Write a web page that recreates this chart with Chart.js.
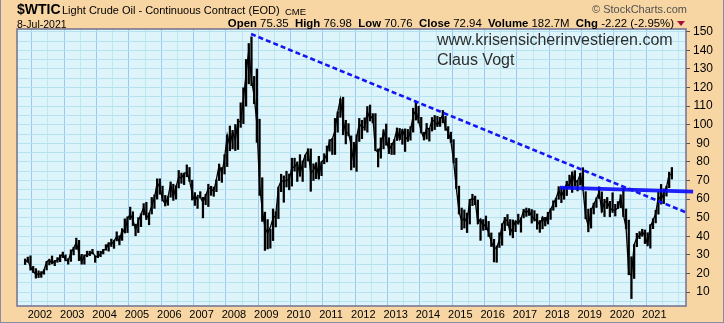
<!DOCTYPE html>
<html>
<head>
<meta charset="utf-8">
<script src="https://cdn.jsdelivr.net/npm/chart.js@4/dist/chart.umd.min.js"></script>
<style>
  html,body{margin:0;padding:0;}
  body{width:724px;height:323px;overflow:hidden;background:#f8d6a4;position:relative;font-family:"Liberation Sans",Arial,sans-serif;}
  #frame{position:absolute;left:0;top:0;width:722px;height:322px;border-left:1px solid #8a8aa6;border-right:1px solid #8a8aa6;border-bottom:1px solid #8a8aa6;pointer-events:none;z-index:5;}
  canvas{position:absolute;left:0;top:0;}
  .t{position:absolute;white-space:nowrap;line-height:normal;color:#000;z-index:3;}
  #sym{left:17px;top:1px;font-size:14px;font-weight:bold;}
  #name{left:62px;top:4px;font-size:11px;}
  #exch{left:285px;top:5.5px;font-size:9.5px;}
  #date{left:17px;top:17.5px;font-size:10.5px;}
  #stats{right:50px;top:16.7px;font-size:11.4px;}
  #stats b{font-weight:bold;}
  #copy{left:592px;top:2.5px;font-size:11px;color:#505050;}
  #tri{position:absolute;left:677px;top:21px;width:0;height:0;border-left:4px solid transparent;border-right:4px solid transparent;border-top:5px solid #a3103c;z-index:3;}
  .wm{position:absolute;white-space:nowrap;line-height:normal;font-size:16px;color:#2e2e2e;z-index:3;}
  #wm1{left:437px;top:30.5px;}
  #wm2{left:437px;top:50.5px;}
</style>
</head>
<body>
<canvas id="c" width="724" height="323"></canvas>
<div id="frame"></div>
<div class="t" id="sym">$WTIC</div>
<div class="t" id="name">Light Crude Oil - Continuous Contract (EOD)</div>
<div class="t" id="exch">CME</div>
<div class="t" id="date">8-Jul-2021</div>
<div class="t" id="stats"><b>Open</b> 75.35&nbsp; <b>High</b> 76.98&nbsp; <b>Low</b> 70.76&nbsp; <b>Close</b> 72.94&nbsp; <b>Volume</b> 182.7M&nbsp; <b>Chg</b> -2.22 (-2.95%)</div>
<div id="tri"></div>
<div class="t" id="copy">© StockCharts.com</div>
<div class="wm" id="wm1">www.krisensicherinvestieren.com</div>
<div class="wm" id="wm2">Claus Vogt</div>
<script>
// ---- data: monthly WTI ranges, Jul 2001 .. Jul 2021 ----
const START_YEAR = 2001;
const START_MONTH = 7;

const monthlyLow = [
  24.8, 26.0, 21.8, 20.5, 17.5, 17.8,
  17.9, 19.6, 21.9, 24.6, 25.4, 24.2, 26.0, 26.3, 28.5, 26.8, 25.0, 26.5,
  30.0, 33.0, 26.9, 25.0, 25.0, 29.0, 29.6, 30.5, 26.0, 28.5, 29.0, 30.5,
  32.5, 32.0, 34.5, 33.5, 37.5, 35.4, 37.8, 41.8, 42.0, 49.0, 45.8, 40.3,
  42.0, 45.2, 51.5, 49.0, 46.2, 52.0, 55.0, 60.0, 62.6, 59.0, 56.3, 56.7,
  61.0, 59.3, 60.0, 66.0, 68.5, 67.8, 72.0, 69.5, 59.5, 56.6, 55.0, 60.5,
  49.9, 57.0, 56.0, 62.0, 61.5, 64.0, 70.0, 69.0, 73.5, 77.5, 86.0, 87.0,
  86.1, 86.7, 98.6, 100.6, 110.0, 122.0, 121.0, 111.3, 90.5, 62.0, 48.0, 32.4,
  33.2, 33.6, 37.7, 45.0, 49.5, 64.0, 58.3, 66.5, 65.0, 67.0, 75.0, 69.5,
  72.4, 69.5, 77.0, 80.5, 64.2, 70.0, 71.0, 70.8, 72.6, 79.0, 80.0, 85.8,
  84.0, 84.0, 96.0, 104.0, 94.6, 89.7, 94.0, 75.7, 77.1, 74.9, 91.0, 92.5,
  97.0, 96.0, 102.0, 101.0, 86.0, 77.3, 82.0, 87.0, 89.0, 84.5, 84.0, 84.0,
  91.5, 92.0, 89.5, 85.6, 91.0, 91.7, 96.0, 102.5, 101.0, 95.5, 91.8, 92.3,
  91.2, 96.6, 97.4, 99.0, 99.1, 101.0, 97.0, 92.5, 90.5, 79.5, 65.7, 52.0,
  43.6, 44.4, 42.0, 46.6, 56.5, 57.0, 46.7, 37.8, 43.2, 43.5, 39.9, 34.5,
  26.2, 26.0, 34.0, 35.2, 43.0, 45.8, 40.6, 39.2, 42.5, 46.5, 42.2, 49.9,
  50.7, 51.2, 47.1, 48.2, 43.8, 42.1, 44.0, 45.6, 46.6, 49.1, 54.0, 55.8,
  59.9, 58.1, 59.9, 61.9, 65.8, 63.6, 67.0, 64.4, 67.5, 64.8, 49.4, 42.4,
  44.4, 52.0, 55.5, 60.3, 53.0, 50.6, 54.9, 50.5, 52.8, 50.9, 54.9, 55.4,
  50.6, 44.0, 19.3, 6.5, 17.3, 34.4, 38.7, 40.0, 36.1, 34.9, 33.6, 44.1,
  47.2, 51.9, 57.3, 57.6, 61.6, 66.1, 70.8
];

const monthlyHigh = [
  27.8, 28.8, 29.5, 23.8, 22.6, 21.4,
  21.0, 22.0, 26.5, 27.7, 29.4, 26.8, 28.5, 30.0, 31.5, 30.0, 28.0, 32.7,
  34.0, 39.0, 37.8, 30.3, 30.0, 32.0, 32.0, 33.0, 29.5, 32.0, 32.0, 33.0,
  35.5, 36.6, 38.5, 37.9, 42.4, 40.3, 44.0, 49.4, 50.5, 55.7, 53.2, 46.5,
  50.0, 52.0, 57.6, 58.3, 52.5, 60.9, 62.3, 70.9, 70.9, 67.0, 62.0, 61.4,
  69.2, 68.0, 67.2, 75.4, 74.0, 73.9, 78.4, 77.0, 70.2, 63.5, 61.0, 64.0,
  61.0, 62.6, 68.0, 66.9, 66.5, 70.4, 78.8, 77.0, 83.9, 94.5, 99.3, 97.0,
  100.1, 103.0, 111.8, 119.9, 135.1, 143.7, 147.3, 126.0, 130.0, 103.0, 71.5, 53.0,
  49.0, 43.8, 54.7, 53.2, 66.5, 73.4, 72.5, 75.0, 73.5, 82.0, 82.0, 80.0,
  83.9, 80.5, 83.7, 87.1, 87.0, 79.0, 79.5, 83.0, 80.0, 84.4, 88.6, 92.0,
  92.6, 103.4, 106.9, 113.9, 114.8, 102.4, 100.6, 94.0, 90.5, 94.6, 103.4, 102.4,
  103.7, 109.8, 110.6, 106.0, 106.0, 87.0, 92.9, 97.3, 100.4, 93.0, 90.0, 92.0,
  98.2, 98.0, 97.5, 97.8, 97.5, 99.0, 108.9, 112.2, 110.0, 104.0, 96.0, 100.7,
  98.0, 103.9, 105.0, 104.5, 104.0, 107.7, 104.5, 99.0, 96.0, 92.0, 82.0, 67.0,
  55.2, 54.2, 52.5, 59.9, 62.6, 61.6, 59.5, 49.3, 49.0, 50.9, 48.0, 41.8,
  38.4, 34.8, 41.9, 46.8, 50.2, 51.7, 49.0, 48.8, 48.3, 51.9, 49.9, 54.5,
  55.2, 54.9, 54.4, 53.8, 52.0, 48.5, 50.4, 50.2, 52.9, 54.9, 59.1, 60.5,
  66.7, 66.3, 66.6, 69.6, 72.9, 74.5, 75.3, 70.1, 73.9, 76.9, 64.0, 54.6,
  55.1, 57.8, 60.7, 66.6, 63.9, 59.9, 60.9, 58.8, 63.4, 57.2, 58.7, 62.3,
  65.7, 54.7, 48.7, 29.0, 35.5, 41.6, 42.5, 43.8, 43.4, 41.9, 46.3, 49.4,
  54.0, 63.8, 67.9, 65.5, 67.0, 74.5, 77.0
];

const monthlyClose = [
  26.4, 27.2, 23.4, 21.2, 19.4, 19.8,
  19.5, 21.7, 26.3, 27.3, 25.3, 26.9, 27.0, 29.0, 30.5, 27.2, 26.9, 31.2,
  33.5, 36.6, 31.0, 25.8, 29.6, 30.2, 30.5, 31.6, 29.2, 29.1, 30.4, 32.5,
  33.1, 36.2, 35.8, 37.4, 39.9, 37.1, 43.8, 42.1, 49.6, 51.8, 49.1, 43.5,
  48.2, 51.8, 55.4, 49.7, 52.0, 56.5, 60.6, 68.9, 66.2, 59.8, 57.3, 61.0,
  67.9, 61.4, 66.6, 71.9, 71.3, 73.9, 74.4, 70.3, 62.9, 58.7, 62.0, 61.1,
  58.1, 61.8, 65.9, 65.7, 64.0, 70.7, 78.2, 74.0, 81.7, 94.5, 88.7, 96.0,
  91.8, 101.8, 101.6, 113.5, 127.4, 140.0, 124.1, 115.5, 100.6, 67.8, 54.4, 44.6,
  41.7, 44.8, 49.7, 51.1, 66.3, 69.9, 69.5, 70.0, 70.6, 77.0, 77.3, 79.4,
  72.9, 79.7, 83.8, 86.2, 74.0, 75.6, 79.0, 71.9, 80.0, 81.4, 84.1, 91.4,
  92.2, 97.0, 106.7, 113.9, 102.7, 95.4, 95.7, 88.8, 79.2, 93.2, 100.4, 98.8,
  98.5, 107.1, 103.0, 104.9, 86.5, 85.0, 88.1, 96.5, 92.2, 86.2, 88.9, 91.8,
  97.5, 92.1, 97.2, 93.5, 92.0, 96.6, 105.0, 107.7, 102.3, 96.4, 92.7, 98.4,
  97.5, 102.6, 101.6, 99.7, 102.7, 105.4, 98.2, 96.0, 91.2, 80.5, 66.2, 53.3,
  48.2, 49.8, 47.6, 59.6, 60.3, 59.5, 47.1, 49.2, 45.1, 46.6, 41.7, 37.0,
  33.6, 33.8, 38.3, 45.9, 49.1, 48.3, 41.6, 44.7, 48.2, 46.9, 49.4, 53.7,
  52.8, 54.0, 50.6, 49.3, 48.3, 46.0, 50.2, 47.2, 51.7, 54.4, 57.4, 60.4,
  64.7, 61.6, 64.9, 68.6, 67.0, 74.1, 68.8, 69.8, 73.3, 65.3, 50.9, 45.4,
  53.8, 57.2, 60.1, 63.9, 53.5, 58.5, 58.6, 55.1, 54.1, 54.2, 55.2, 61.1,
  51.6, 44.8, 20.5, 18.8, 35.5, 39.3, 40.3, 42.6, 40.2, 35.8, 45.3, 48.5,
  52.2, 61.5, 59.2, 63.6, 66.3, 73.5, 72.9
];

// tick labels
const yearTicks = [2002,2003,2004,2005,2006,2007,2008,2009,2010,2011,2012,2013,2014,2015,2016,2017,2018,2019,2020,2021];
const priceTicks = [10,20,30,40,50,60,70,80,90,100,110,120,130,140,150];

// hand-drawn trendlines (decimal year, price)
const downTrendLine = [{x:2008.53, y:148.8}, {x:2022.03, y:52.5}];
const supportLine = [{x:2018.08, y:66.2}, {x:2022.2, y:64.0}];

// ---- build chart ----
const monthX = i => START_YEAR + (START_MONTH - 1 + i + 0.5) / 12;
const rangeData = monthlyLow.map((lo, i) => ({x: monthX(i), y: [lo, monthlyHigh[i]]}));
const closeData = monthlyClose.map((c, i) => ({x: monthX(i), y: c}));

const xGridValues = [];
yearTicks.forEach(y => { xGridValues.push(y); xGridValues.push(y + 0.5); });
const yGridValues = [5];
priceTicks.forEach(p => { yGridValues.push(p); if (p + 5 < 151) yGridValues.push(p + 5); });

const plotDecor = {
  id: 'plotDecor',
  beforeDraw(chart) {
    const {ctx, chartArea: a} = chart;
    ctx.save();
    ctx.fillStyle = '#ddf5fa';
    ctx.fillRect(a.left, a.top, a.right - a.left, a.bottom - a.top);
    ctx.restore();
  },
  beforeDatasetsDraw(chart) {
    const {ctx, chartArea: a} = chart;
    ctx.save();
    ctx.strokeStyle = '#70708e';
    ctx.lineWidth = 1.5;
    ctx.strokeRect(a.left, a.top, a.right - a.left, a.bottom - a.top);
    ctx.restore();
  }
};

new Chart(document.getElementById('c'), {
  type: 'bar',
  data: {
    datasets: [
      {
        type: 'line',
        data: downTrendLine,
        borderColor: '#1414f5',
        borderWidth: 2.6,
        borderDash: [5, 3],
        pointRadius: 0,
        fill: false,
        order: 0,
        clip: {left: 0, top: 0, right: 20, bottom: 0}
      },
      {
        type: 'line',
        data: supportLine,
        borderColor: 'rgba(10,10,250,0.9)',
        borderWidth: 3.6,
        pointRadius: 0,
        fill: false,
        order: 1,
        clip: {left: 0, top: 0, right: 20, bottom: 0}
      },
      {
        type: 'line',
        data: closeData,
        borderColor: '#000',
        borderWidth: 1.3,
        pointRadius: 0,
        tension: 0,
        fill: false,
        order: 2
      },
      {
        type: 'bar',
        data: rangeData,
        backgroundColor: '#000',
        borderWidth: 0,
        barThickness: 1.6,
        order: 3
      }
    ]
  },
  options: {
    responsive: false,
    animation: false,
    events: [],
    layout: {padding: {top: 29, left: 17, right: 0, bottom: 0}},
    plugins: {legend: {display: false}, tooltip: {enabled: false}},
    scales: {
      x: {
        type: 'linear',
        min: 2001.55,
        max: 2021.72,
        afterBuildTicks: s => { s.ticks = xGridValues.map(v => ({value: v})); },
        afterFit: s => { s.height = 17; },
        border: {display: false},
        grid: {
          drawTicks: false,
          lineWidth: 1,
          color: c => (c.tick && Number.isInteger(c.tick.value)) ? '#9cc9f2' : '#bfe6f3'
        },
        ticks: {
          autoSkip: false,
          maxRotation: 0,
          padding: 2,
          color: '#000',
          font: {family: 'Liberation Sans', size: 11},
          callback: v => yearTicks.includes(v) ? String(v) : ''
        }
      },
      y: {
        type: 'linear',
        position: 'right',
        min: 2.5,
        max: 151.5,
        afterBuildTicks: s => { s.ticks = yGridValues.map(v => ({value: v})); },
        afterFit: s => { s.width = 38; },
        border: {display: false},
        grid: {
          lineWidth: 1,
          color: '#b4e2ef',
          tickLength: 4,
          tickColor: c => (c.tick && priceTicks.includes(c.tick.value)) ? '#555' : 'rgba(0,0,0,0)'
        },
        ticks: {
          autoSkip: false,
          padding: 3,
          crossAlign: 'center',
          color: '#000',
          font: {family: 'Liberation Sans', size: 12},
          callback: v => priceTicks.includes(v) ? String(v) : ''
        }
      }
    }
  },
  plugins: [plotDecor]
});
</script>
</body>
</html>
